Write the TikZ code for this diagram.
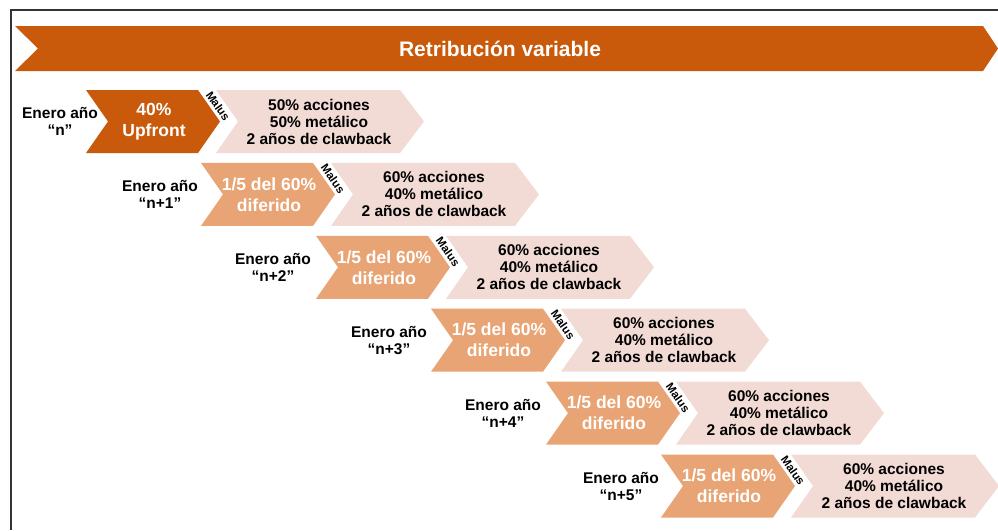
\documentclass[tikz,border=0pt]{standalone}
\usepackage{fontspec}
\setmainfont{Liberation Sans}
\definecolor{dkorange}{HTML}{C95A0B}
\definecolor{peach}{HTML}{E8A474}
\definecolor{pinkbg}{HTML}{F2DBD4}
\newcommand{\chevpair}[7]{%
  % #1 = L, #2 = cy, #3 = colour, #4 = id, #5 = label x, #6 = label, #7 = orange text
  \fill[#3] ({#1},{#2-31.5}) -- ({#1+112},{#2-31.5}) -- ({#1+134},{#2}) -- ({#1+112},{#2+31.5}) -- ({#1},{#2+31.5}) -- ({#1+22},{#2}) -- cycle;
  \fill[pinkbg] ({#1+130},{#2-31.5}) -- ({#1+314},{#2-31.5}) -- ({#1+338},{#2}) -- ({#1+314},{#2+31.5}) -- ({#1+130},{#2+31.5}) -- ({#1+152},{#2}) -- cycle;
  \node[lab] (lab#4) at ({#5},{#2}) {Enero año\\#6};
  \node[otext] (or#4) at ({#1+68},{#2}) {#7};
  \node[malus] (mal#4) at ({#1+132},{#2-15.5}) {Malus};
}
\begin{document}
\begin{tikzpicture}[x=1pt,y=-1pt,
  lab/.style={font=\fontsize{15.5}{17}\selectfont\bfseries, align=center, text=black, inner sep=0pt},
  otext/.style={font=\fontsize{17.5}{21}\selectfont\bfseries, align=center, text=white, inner sep=0pt},
  ptext/.style={font=\fontsize{15.5}{17}\selectfont\bfseries, align=center, text=black, inner sep=0pt},
  malus/.style={font=\fontsize{11.5}{12}\selectfont\bfseries, rotate=-55, inner sep=0pt, text=black},
  ttl/.style={font=\fontsize{21}{24}\selectfont\bfseries, text=white, inner sep=0pt}]
\useasboundingbox (0,0) rectangle (998,530);
\fill[white] (0,0) rectangle (998,530);
\draw[line width=1.5pt, black!80] (11,530) -- (11,10) -- (998,10);
\fill[dkorange] (15,26) -- (983,26) -- (998,48.5) -- (983,71) -- (15,71) -- (38,48.5) -- cycle;
\node[ttl] (title) at (500,48.5) {Retribución variable};
% row 1
\chevpair{86}{121.5}{dkorange}{1}{60}{“n”}{40\%\\Upfront}
\node[ptext] (pt1) at (319,121.5) {50\% acciones\\50\% metálico\\2 años de clawback};
% rows 2-6
\chevpair{201}{194.4}{peach}{2}{160}{“n+1”}{1/5 del 60\%\\diferido}
\node[ptext] (pt2) at (434,194.4) {60\% acciones\\40\% metálico\\2 años de clawback};
\chevpair{316}{267.3}{peach}{3}{273}{“n+2”}{1/5 del 60\%\\diferido}
\node[ptext] (pt3) at (549,267.3) {60\% acciones\\40\% metálico\\2 años de clawback};
\chevpair{431}{340.2}{peach}{4}{389}{“n+3”}{1/5 del 60\%\\diferido}
\node[ptext] (pt4) at (664,340.2) {60\% acciones\\40\% metálico\\2 años de clawback};
\chevpair{546}{413.1}{peach}{5}{503}{“n+4”}{1/5 del 60\%\\diferido}
\node[ptext] (pt5) at (779,413.1) {60\% acciones\\40\% metálico\\2 años de clawback};
\chevpair{661}{486}{peach}{6}{621}{“n+5”}{1/5 del 60\%\\diferido}
\node[ptext] (pt6) at (894,486) {60\% acciones\\40\% metálico\\2 años de clawback};
\end{tikzpicture}
\end{document}
